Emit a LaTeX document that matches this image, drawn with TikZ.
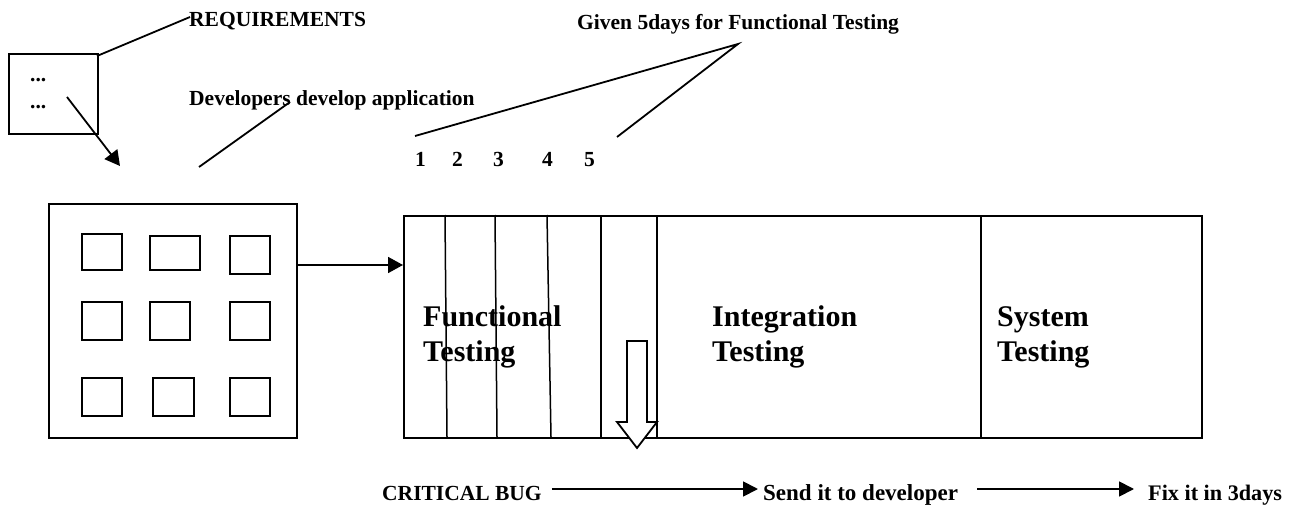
\documentclass[tikz,border=0pt]{standalone}
\usepackage{fontspec}
\setmainfont{Liberation Serif}
\usetikzlibrary{arrows.meta}
\begin{document}
\begin{tikzpicture}[x=1pt,y=-1pt,
  ln/.style={line width=1.8pt},
  box/.style={draw,line width=1.8pt,inner sep=0pt,anchor=north west},
  sm/.style={inner sep=0pt,anchor=base west,font=\fontsize{21.5}{26}\selectfont\bfseries},
  bg/.style={inner sep=0pt,anchor=base west,font=\fontsize{30}{36}\selectfont\bfseries},
  arr/.style={line width=1.8pt,-{Triangle[length=15pt,width=16pt]}},
  sarr/.style={line width=1.8pt,-{Triangle[length=15pt,width=15pt]}}]
\useasboundingbox (0,0) rectangle (1296,508);
% requirements box
\node[box,minimum width=89pt,minimum height=80pt] (req) at (8,53) {};
\node[sm] (d1) at (30,82) {...};
\node[sm] (d2) at (30,109) {...};
\node[sm] (reqt) at (189,27) {REQUIREMENTS};
\coordinate (reqA) at (97,56);
\coordinate (reqB) at (190,17);
\draw[ln] (reqA) -- (reqB);
% developers
\node[sm] (dev) at (189,106) {Developers develop application};
\coordinate (devA) at (199,167);
\coordinate (devB) at (290,102);
\draw[ln] (devA) -- (devB);
% application box
\node[box,minimum width=248pt,minimum height=234pt] (app) at (48,203) {};
\node[box,minimum width=40pt,minimum height=36pt] (b11) at (81,233) {};
\node[box,minimum width=50pt,minimum height=34pt] (b12) at (149,235) {};
\node[box,minimum width=40pt,minimum height=38pt] (b13) at (229,235) {};
\node[box,minimum width=40pt,minimum height=38pt] (b21) at (81,301) {};
\node[box,minimum width=40pt,minimum height=38pt] (b22) at (149,301) {};
\node[box,minimum width=40pt,minimum height=38pt] (b23) at (229,301) {};
\node[box,minimum width=40pt,minimum height=38pt] (b31) at (81,377) {};
\node[box,minimum width=41pt,minimum height=38pt] (b32) at (152,377) {};
\node[box,minimum width=40pt,minimum height=38pt] (b33) at (229,377) {};
\coordinate (rA) at (67,97);
\coordinate (rB) at (120,166);
\draw[arr] (rA) -- (rB);
% testing box
\node[box,minimum width=798pt,minimum height=222pt] (test) at (403,215) {};
\draw[arr] (app.east |- 0,265) -- (test.west |- 0,265);
\coordinate (v1t) at (445,215); \coordinate (v1b) at (447,437);
\coordinate (v2t) at (495,215); \coordinate (v2b) at (497,437);
\coordinate (v3t) at (547,215); \coordinate (v3b) at (551,437);
\coordinate (v4t) at (601,215); \coordinate (v4b) at (601,437);
\coordinate (v5t) at (657,215); \coordinate (v5b) at (657,437);
\coordinate (v6t) at (981,215); \coordinate (v6b) at (981,437);
\draw[line width=1.5pt] (v1t) -- (v1b) (v2t) -- (v2b) (v3t) -- (v3b);
\draw[ln] (v4t) -- (v4b) (v5t) -- (v5b) (v6t) -- (v6b);
\node[bg] (f1) at (423,326) {Functional};
\node[bg] (f2) at (423,361) {Testing};
\node[bg] (i1) at (712,326) {Integration};
\node[bg] (i2) at (712,361) {Testing};
\node[bg] (s1) at (997,326) {System};
\node[bg] (s2) at (997,361) {Testing};
% hollow arrow
\draw[ln,fill=white,line join=miter] (627,341) -- (647,341) -- (647,422) -- (657,422) -- (637,448) -- (617,422) -- (627,422) -- cycle;
% days
\node[sm] (n1) at (415,167) {1};
\node[sm] (n2) at (452,167) {2};
\node[sm] (n3) at (493,167) {3};
\node[sm] (n4) at (542,167) {4};
\node[sm] (n5) at (584,167) {5};
\node[sm] (given) at (577,30) {Given 5days for Functional Testing};
\coordinate (gA) at (415,136);
\coordinate (gB) at (738,44);
\coordinate (gC) at (617,137);
\draw[ln] (gA) -- (gB) -- (gC);
% bottom
\node[sm] (bug) at (382,500) {CRITICAL BUG};
\node[sm,font=\fontsize{23}{27}\selectfont\bfseries] (send) at (763,500) {Send it to developer};
\node[sm,font=\fontsize{22.2}{27}\selectfont\bfseries] (fix) at (1148,500) {Fix it in 3days};
\draw[sarr] ([xshift=10pt]bug.east |- 0,489) -- ([xshift=-5pt]send.west |- 0,489);
\draw[sarr] ([xshift=19pt]send.east |- 0,489) -- ([xshift=-14pt]fix.west |- 0,489);
\end{tikzpicture}
\end{document}
